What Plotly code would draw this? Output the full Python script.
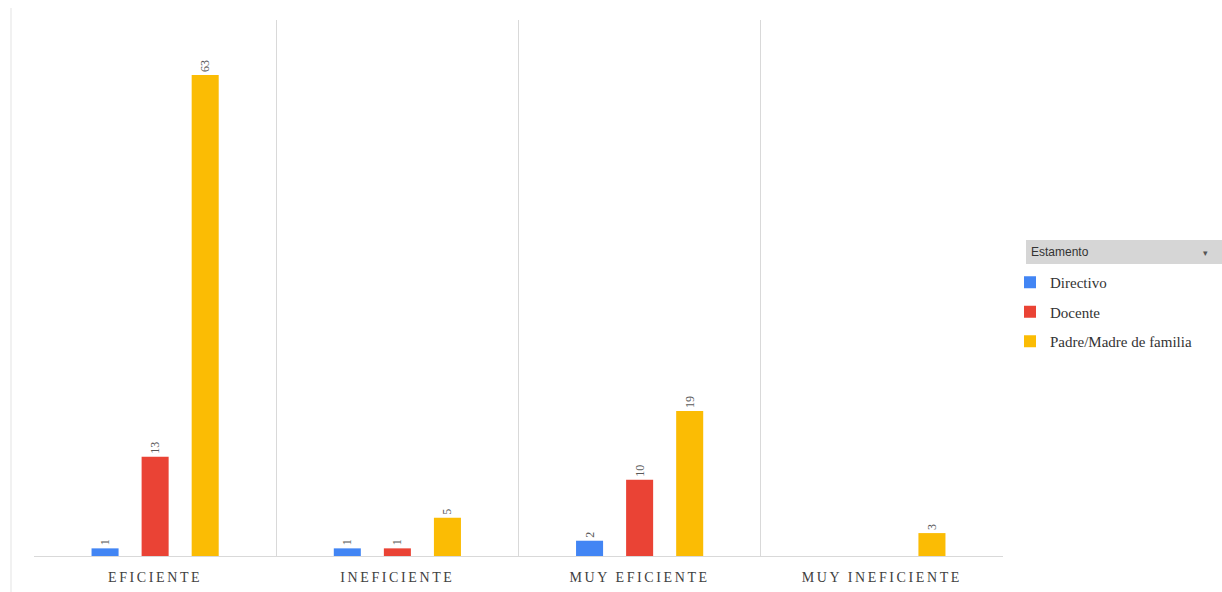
import plotly.graph_objects as go

categories = ["EFICIENTE", "INEFICIENTE", "MUY EFICIENTE", "MUY INEFICIENTE"]
directivo = [1, 1, 2, None]
docente = [13, 1, 10, None]
padre_madre = [63, 5, 19, 3]
series_names = ["Directivo", "Docente", "Padre/Madre de familia"]
colors = ["#4285F4", "#EA4335", "#FBBC04"]
legend_title = "Estamento"

fig = go.Figure()
for i, (name, vals) in enumerate(zip(series_names, [directivo, docente, padre_madre])):
    fig.add_trace(go.Bar(
        x=categories, y=vals, name=name,
        marker=dict(color=colors[i], line=dict(width=0)),
        text=[("" if v is None else str(v)) for v in vals],
        textposition="outside", textangle=-90,
        textfont=dict(family="Liberation Serif", size=12, color="#595959"),
        cliponaxis=False,
        legendgroup=name,
    ))

W, H = 1222, 592
ml, mr, mt, mb = 34, 219, 20, 36
pw = W - ml - mr
ph = H - mt - mb

def px_x(px):
    return (px - ml) / pw

def px_y(py):
    return (H - mb - py) / ph

fig.update_layout(
    width=W, height=H,
    margin=dict(l=ml, r=mr, t=mt, b=mb, pad=0, autoexpand=False),
    paper_bgcolor="white", plot_bgcolor="white",
    barmode="group", bargap=0.38, bargroupgap=0.46,
    showlegend=True,
    legend=dict(
        x=px_x(1010), xanchor="left", y=px_y(266), yanchor="top",
        font=dict(family="Liberation Serif", size=15, color="#333333"),
        tracegroupgap=7, itemwidth=30, bgcolor="rgba(0,0,0,0)",
    ),
    xaxis=dict(
        type="category", tickson="boundaries", showgrid=True, gridcolor="#d9d9d9", gridwidth=1,
        showline=True, linecolor="#d9d9d9", ticks="", ticklabelstandoff=8, automargin=False,
        tickfont=dict(family="Liberation Serif", size=14, color="#404040"),
        range=[-0.5, 3.5],
    ),
    yaxis=dict(range=[0, 70.2], showgrid=False, showticklabels=False, zeroline=False,
               showline=False, automargin=False),
    shapes=[
        dict(type="rect", xref="paper", yref="paper",
             x0=px_x(1026), x1=px_x(1222), y0=px_y(264), y1=px_y(240),
             fillcolor="#d6d6d6", line=dict(width=0), layer="below"),
        dict(type="line", xref="paper", yref="paper",
             x0=px_x(11), x1=px_x(11), y0=px_y(592), y1=px_y(8),
             line=dict(color="#e3e3e3", width=1)),
    ],
    annotations=[
        dict(text=legend_title, xref="paper", yref="paper", x=px_x(1029), y=px_y(252),
             xanchor="left", yanchor="middle", showarrow=False,
             font=dict(family="Liberation Sans", size=12, color="#333333")),
        dict(text="▾", xref="paper", yref="paper", x=px_x(1210), y=px_y(252),
             showarrow=False, font=dict(size=9, color="#555555")),
    ],
)

post = """
document.body.style.margin = '0';
document.querySelectorAll('.xtick text').forEach(function(t){ t.style.letterSpacing = '2.6px'; });
"""
fig.write_html("out.html", post_script=post, config={"displayModeBar": False})
